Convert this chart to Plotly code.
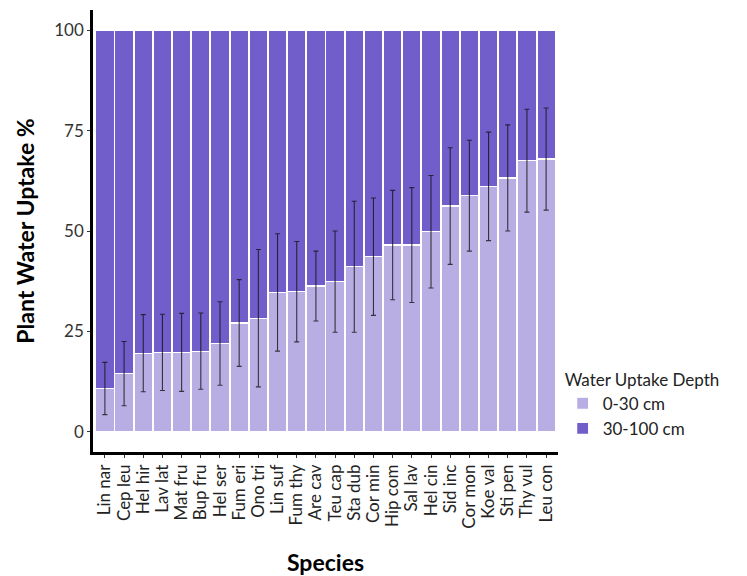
import plotly.graph_objects as go

species = ["Lin nar", "Cep leu", "Hel hir", "Lav lat", "Mat fru", "Bup fru", "Hel ser",
           "Fum eri", "Ono tri", "Lin suf", "Fum thy", "Are cav", "Teu cap", "Sta dub",
           "Cor min", "Hip com", "Sal lav", "Hel cin", "Sid inc", "Cor mon", "Koe val",
           "Sti pen", "Thy vul", "Leu con"]
shallow = [10.8, 14.5, 19.6, 19.8, 19.8, 20.1, 22.0, 27.1, 28.3, 34.7, 34.9, 36.3,
           37.4, 41.1, 43.6, 46.5, 46.5, 49.8, 56.2, 58.8, 61.1, 63.2, 67.5, 67.9]
shallow_sd = [6.5, 8.0, 9.6, 9.5, 9.7, 9.5, 10.4, 10.8, 17.1, 14.6, 12.5, 8.7,
              12.6, 16.3, 14.6, 13.6, 14.3, 14.0, 14.5, 13.8, 13.5, 13.2, 12.8, 12.7]
deep = [100 - v for v in shallow]

c_light = "#b8aee3"
c_dark = "#715ecb"

fig = go.Figure()
fig.add_trace(go.Bar(x=species, y=shallow, name="0-30 cm", marker_color=c_light,
                     marker_line=dict(color="white", width=1.2)))
fig.add_trace(go.Bar(x=species, y=deep, name="30-100 cm", marker_color=c_dark,
                     marker_line=dict(color="white", width=1.2)))
fig.add_trace(go.Scatter(x=species, y=shallow, mode="markers", showlegend=False,
                         marker=dict(opacity=0, size=1),
                         error_y=dict(type="data", array=shallow_sd, visible=True,
                                      color="rgba(20,20,20,0.8)", thickness=1.1, width=2.5),
                         hoverinfo="skip"))

fig.update_layout(
    width=747, height=576,
    barmode="stack", bargap=0.04,
    plot_bgcolor="white", paper_bgcolor="white",
    margin=dict(l=93, r=189, t=10, b=124),
    font=dict(family="Lato, Open Sans, sans-serif", color="#222222"),
    xaxis=dict(range=[-0.62, 23.62], showline=True, linecolor="black", linewidth=2.5,
               tickmode="array", tickvals=species, ticktext=species, automargin=False,
               tickangle=-90, tickfont=dict(size=17, color="#222222"),
               ticks="outside", ticklen=3, tickcolor="#333333",
               title=dict(text="<b>Species</b>", font=dict(size=23, color="black"), standoff=30),
               showgrid=False, zeroline=False),
    yaxis=dict(range=[-5, 105], showline=True, linecolor="black", linewidth=2.5,
               tickvals=[0, 25, 50, 75, 100], tickfont=dict(size=17, color="#333333"),
               ticks="outside", ticklen=3, tickcolor="#333333", automargin=False,
               title=dict(text="<b>Plant Water Uptake %</b>", font=dict(size=23, color="black"), standoff=14),
               showgrid=False, zeroline=False),
    legend=dict(title=dict(text="Water Uptake Depth", font=dict(size=17, color="#222222")),
                font=dict(size=17, color="#222222"), traceorder="normal",
                x=1.01, xanchor="left", y=0.2, yanchor="top",
                bgcolor="rgba(0,0,0,0)"),
)

fig.write_html("out.html")
